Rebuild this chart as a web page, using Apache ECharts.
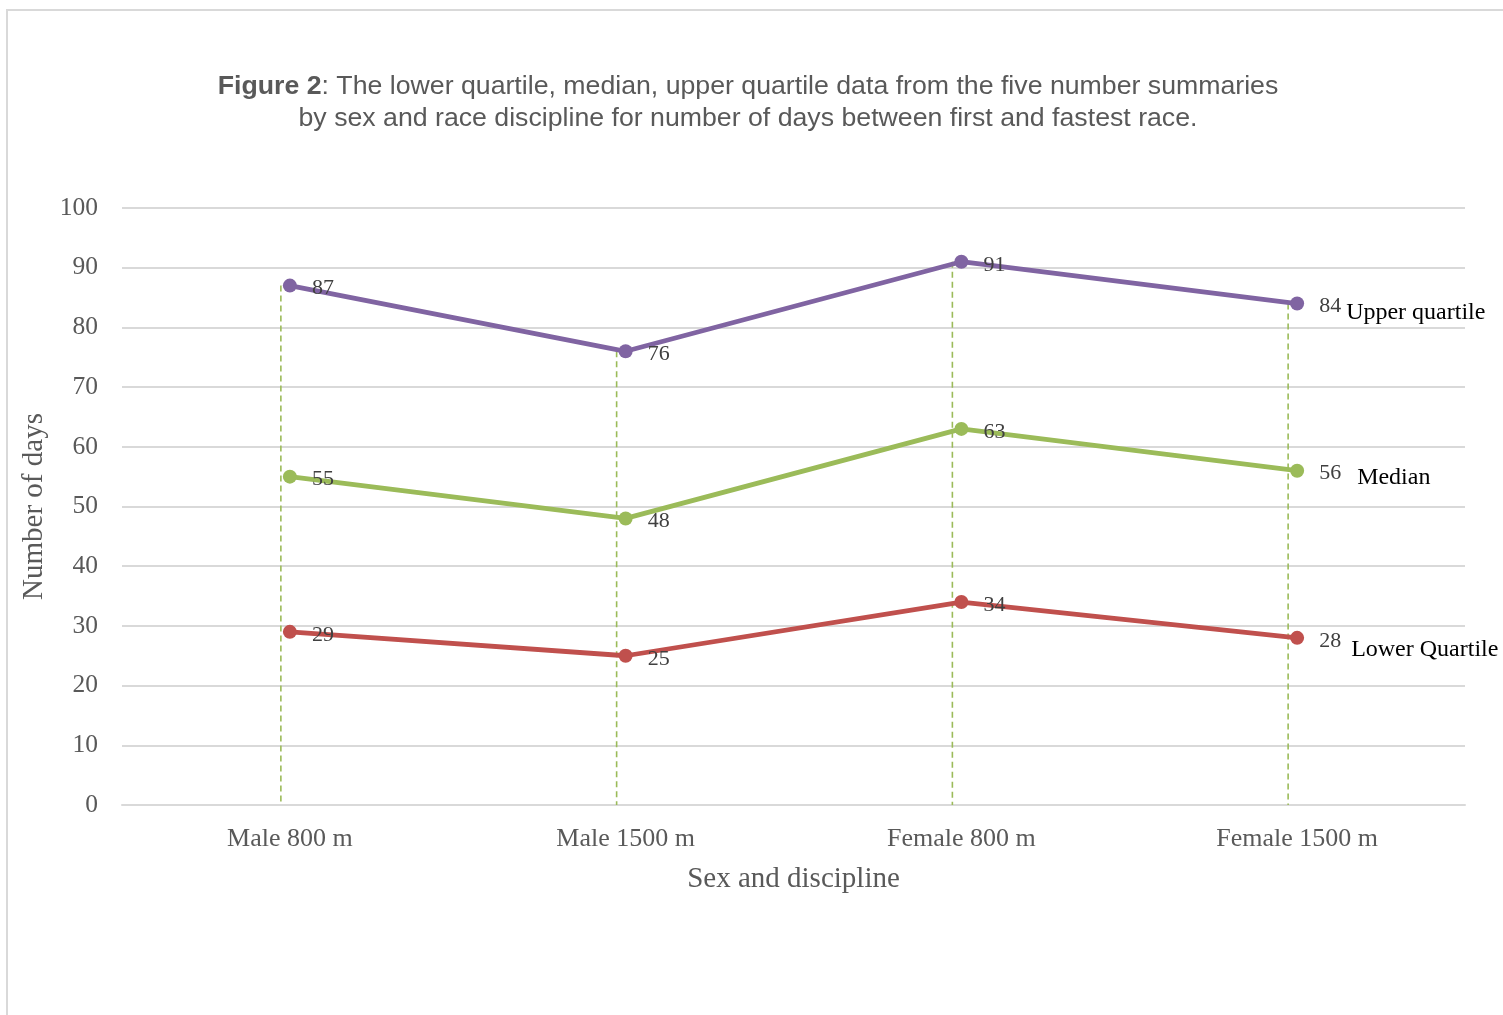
<!DOCTYPE html>
<html>
<head>
<meta charset="utf-8">
<title>Days between first and fastest race</title>
<script src="https://cdn.jsdelivr.net/npm/echarts@6/dist/echarts.min.js"></script>
<style>
  html, body { margin: 0; padding: 0; background: #ffffff; width: 1503px; height: 1015px; overflow: hidden; }
  #frame { position: absolute; left: 6px; top: 9px; width: 1600px; height: 1100px; border: 2px solid #d9d9d9; box-sizing: border-box; }
  #chart { position: absolute; left: 0; top: 0; width: 1503px; height: 1015px; }
</style>
</head>
<body>
<div id="frame"></div>
<div id="chart"></div>
<script>
// Categories: sex and race discipline
const categories = ['Male 800 m', 'Male 1500 m', 'Female 800 m', 'Female 1500 m'];

// Five-number-summary pieces (days between first and fastest race)
const upperQuartile = [87, 76, 91, 84];
const median = [55, 48, 63, 56];
const lowerQuartile = [29, 25, 34, 28];

// Y axis range
const yMin = 0;
const yMax = 100;
const yStep = 10;

const serif = '"Liberation Serif", "Times New Roman", serif';
const sans = '"Liberation Sans", Arial, sans-serif';

const chart = echarts.init(document.getElementById('chart'), null, { renderer: 'canvas' });

function lineSeries(name, data, color, endOffset) {
  return {
    name: name,
    type: 'line',
    data: data,
    z: 3,
    symbol: 'circle',
    symbolSize: 14,
    lineStyle: { color: color, width: 4.8 },
    itemStyle: { color: color },
    label: {
      show: true,
      position: 'right',
      distance: 15,
      offset: [0, 3],
      color: '#404040',
      fontFamily: serif,
      fontSize: 22
    },
    endLabel: {
      show: true,
      formatter: name,
      distance: 0,
      offset: endOffset,
      color: '#000000',
      fontFamily: serif,
      fontSize: 24
    }
  };
}

const option = {
  animation: false,
  backgroundColor: 'transparent',
  title: {
    left: 743,
    top: 66,
    textAlign: 'center',
    text: '{b|Figure 2}: The lower quartile, median, upper quartile data from the five number summaries\nby sex and race discipline for number of days between first and fastest race.',
    textStyle: {
      fontFamily: sans,
      fontSize: 26.7,
      fontWeight: 'normal',
      color: '#595959',
      lineHeight: 32,
      rich: {
        b: { fontFamily: sans, fontSize: 26.7, fontWeight: 'bold', color: '#595959', lineHeight: 32 }
      }
    }
  },
  grid: { left: 122, right: 38, top: 208, bottom: 210, containLabel: false },
  xAxis: {
    type: 'category',
    data: categories,
    boundaryGap: true,
    name: 'Sex and discipline',
    nameLocation: 'middle',
    nameGap: 60,
    nameTextStyle: { fontFamily: serif, fontSize: 29, color: '#595959' },
    axisLine: { show: true, lineStyle: { color: '#d9d9d9', width: 2 } },
    axisTick: { show: false },
    axisLabel: { margin: 21, fontFamily: serif, fontSize: 26, color: '#595959' },
    splitLine: { show: false }
  },
  yAxis: {
    type: 'value',
    min: yMin,
    max: yMax,
    interval: yStep,
    name: 'Number of days',
    nameLocation: 'middle',
    nameGap: 73,
    nameTextStyle: { fontFamily: serif, fontSize: 29, color: '#595959' },
    axisLine: { show: false },
    axisTick: { show: false },
    axisLabel: { margin: 24, fontFamily: serif, fontSize: 25.5, color: '#595959' },
    splitLine: { show: true, lineStyle: { color: '#d9d9d9', width: 2 } }
  },
  series: [
    {
      // dashed drop lines from the upper quartile down to the category axis
      name: 'drop',
      type: 'custom',
      z: 1,
      silent: true,
      data: upperQuartile.map((v, i) => [i, v]),
      renderItem: function (params, api) {
        const top = api.coord([api.value(0), api.value(1)]);
        const bottom = api.coord([api.value(0), 0]);
        const dx = -9;
        return {
          type: 'line',
          shape: { x1: top[0] + dx, y1: top[1], x2: bottom[0] + dx, y2: bottom[1] },
          style: { stroke: '#9BBB59', lineWidth: 1.6, lineDash: [6, 4] }
        };
      }
    },
    lineSeries('Upper quartile', upperQuartile, '#8064A2', [49, 9]),
    lineSeries('Median', median, '#9BBB59', [60, 7]),
    lineSeries('Lower Quartile', lowerQuartile, '#C0504D', [54, 12])
  ]
};

chart.setOption(option);
</script>
</body>
</html>
